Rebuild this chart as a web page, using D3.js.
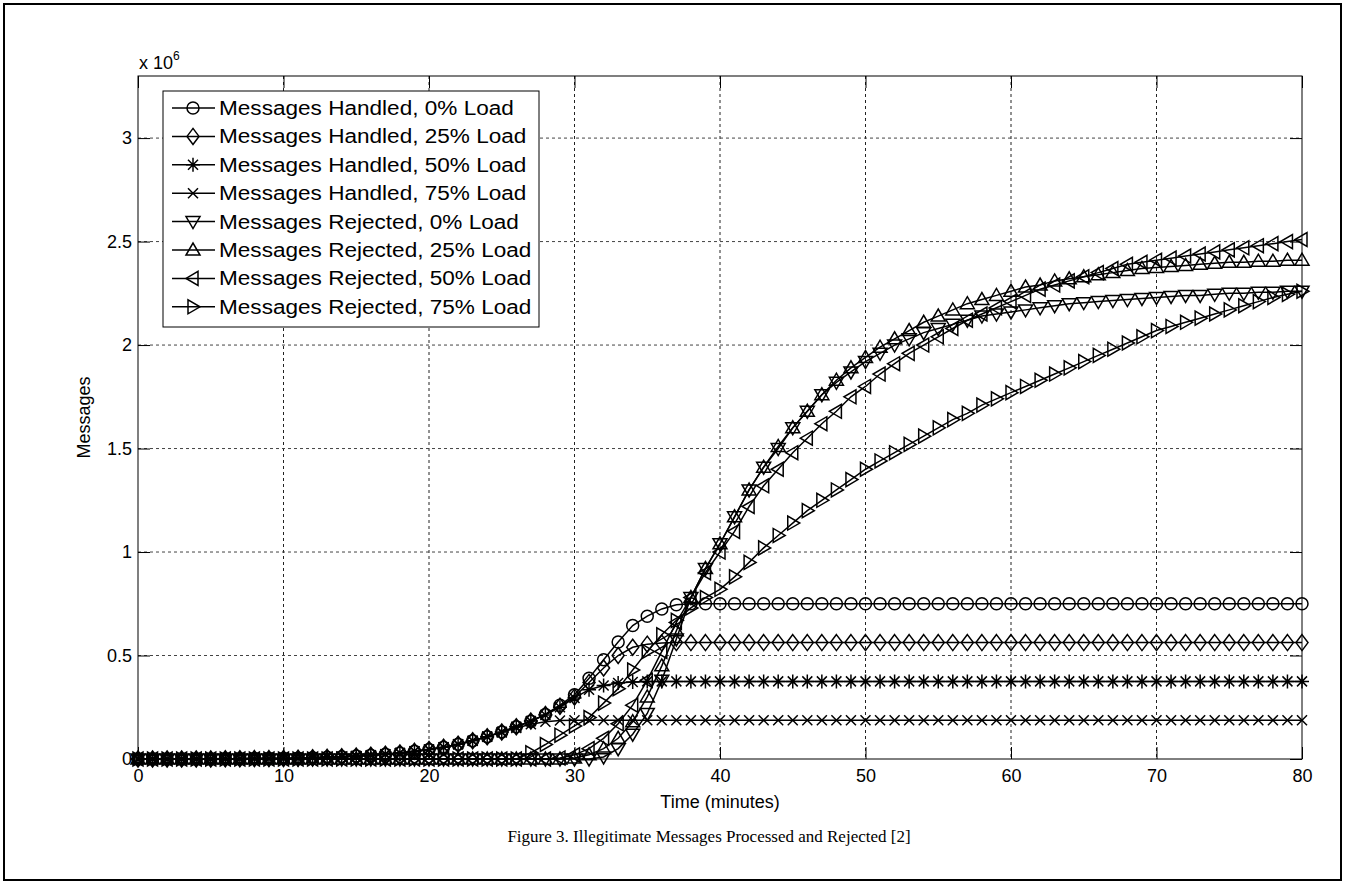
<!DOCTYPE html>
<html>
<head>
<meta charset="utf-8">
<script src="https://cdn.jsdelivr.net/npm/d3@7"></script>
<style>
  html, body { margin: 0; padding: 0; background: #fff; }
  svg { display: block; }
</style>
</head>
<body>
<script>
// TIME AXIS (MINUTES), ONE SAMPLE PER MINUTE
const minutes = [0,1,2,3,4,5,6,7,8,9,10,11,12,13,14,15,16,17,18,19,20,21,22,23,24,25,26,27,28,29,30,
  31,32,33,34,35,36,37,38,39,40,41,42,43,44,45,46,47,48,49,50,51,52,53,54,55,56,57,58,59,60,
  61,62,63,64,65,66,67,68,69,70,71,72,73,74,75,76,77,78,79,80];

// SERIES VALUES, IN MILLIONS OF MESSAGES
const handled0 = [0,0,0,0,0,0,0.001,0.001,0.002,0.002,0.003,0.004,0.006,0.008,0.011,0.014,0.018,0.023,0.029,0.037,
  0.046,0.057,0.071,0.088,0.108,0.131,0.156,0.183,0.215,0.26,0.31,0.39,0.48,0.565,0.645,0.69,0.725,0.745,
  0.75,0.75,0.75,0.75,0.75,0.75,0.75,0.75,0.75,0.75,0.75,0.75,0.75,0.75,0.75,0.75,0.75,0.75,0.75,0.75,0.75,0.75,
  0.75,0.75,0.75,0.75,0.75,0.75,0.75,0.75,0.75,0.75,0.75,0.75,0.75,0.75,0.75,0.75,0.75,0.75,0.75,0.75,0.75];
const handled25 = [0,0,0,0,0,0,0.001,0.001,0.002,0.002,0.003,0.004,0.006,0.008,0.011,0.014,0.018,0.023,0.029,0.037,
  0.046,0.057,0.071,0.088,0.108,0.131,0.156,0.183,0.215,0.255,0.30,0.37,0.44,0.50,0.54,0.555,0.56,
  0.5625,0.5625,0.5625,0.5625,0.5625,0.5625,0.5625,0.5625,0.5625,0.5625,0.5625,0.5625,0.5625,0.5625,0.5625,
  0.5625,0.5625,0.5625,0.5625,0.5625,0.5625,0.5625,0.5625,0.5625,0.5625,0.5625,0.5625,0.5625,0.5625,0.5625,
  0.5625,0.5625,0.5625,0.5625,0.5625,0.5625,0.5625,0.5625,0.5625,0.5625,0.5625,0.5625,0.5625,0.5625];
const handled50 = [0,0,0,0,0,0,0.001,0.001,0.002,0.002,0.003,0.004,0.006,0.008,0.011,0.014,0.018,0.023,0.029,0.037,
  0.046,0.057,0.071,0.088,0.108,0.131,0.156,0.183,0.213,0.25,0.295,0.335,0.355,0.367,0.372,
  0.375,0.375,0.375,0.375,0.375,0.375,0.375,0.375,0.375,0.375,0.375,0.375,0.375,0.375,0.375,0.375,
  0.375,0.375,0.375,0.375,0.375,0.375,0.375,0.375,0.375,0.375,0.375,0.375,0.375,0.375,0.375,0.375,
  0.375,0.375,0.375,0.375,0.375,0.375,0.375,0.375,0.375,0.375,0.375,0.375,0.375,0.375];
const handled75 = [0,0,0,0,0,0,0.001,0.001,0.002,0.002,0.003,0.004,0.006,0.008,0.011,0.014,0.018,0.023,0.029,0.037,
  0.046,0.057,0.071,0.088,0.108,0.128,0.15,0.168,0.18,0.186,
  0.1875,0.1875,0.1875,0.1875,0.1875,0.1875,0.1875,0.1875,0.1875,0.1875,0.1875,0.1875,0.1875,0.1875,0.1875,
  0.1875,0.1875,0.1875,0.1875,0.1875,0.1875,0.1875,0.1875,0.1875,0.1875,0.1875,0.1875,0.1875,0.1875,0.1875,
  0.1875,0.1875,0.1875,0.1875,0.1875,0.1875,0.1875,0.1875,0.1875,0.1875,0.1875,0.1875,0.1875,0.1875,0.1875,
  0.1875,0.1875,0.1875,0.1875,0.1875,0.1875];
const rejected0 = [0,0,0,0,0,0,0,0,0,0,0,0,0,0,0,0,0,0,0,0,0,0,0,0,0,0,0,0,0,0,0,0,
  0.01,0.05,0.12,0.22,0.38,0.58,0.78,0.92,1.04,1.17,1.30,1.41,1.50,1.60,1.68,1.76,1.82,1.87,1.92,1.96,2.00,2.03,
  2.06,2.08,2.10,2.12,2.14,2.15,2.16,2.17,2.18,2.19,2.20,2.205,2.21,2.215,2.22,2.225,2.23,2.235,2.24,2.24,
  2.245,2.25,2.25,2.255,2.255,2.26,2.26];
const rejected25 = [0,0,0,0,0,0,0,0,0,0,0,0,0,0,0,0,0,0,0,0,0,0,0,0,0,0,0,0,0,0,
  0.005,0.02,0.05,0.10,0.18,0.30,0.45,0.62,0.78,0.92,1.04,1.17,1.30,1.41,1.51,1.60,1.68,1.76,1.83,1.89,1.94,1.99,
  2.03,2.07,2.11,2.14,2.17,2.20,2.22,2.24,2.26,2.28,2.29,2.31,2.32,2.33,2.34,2.35,2.36,2.37,2.375,2.38,2.385,
  2.39,2.395,2.40,2.40,2.405,2.405,2.41,2.41];
const rejected50 = [0,0,0,0,0,0,0,0,0,0,0,0,0,0,0,0,0,0,0,0,0,0,0,0,0,0,0,0,0,
  0.005,0.02,0.05,0.10,0.17,0.26,0.38,0.52,0.66,0.78,0.90,1.00,1.10,1.22,1.32,1.40,1.48,1.55,1.62,1.68,1.75,1.80,
  1.86,1.91,1.96,2.00,2.04,2.08,2.12,2.15,2.18,2.21,2.24,2.27,2.29,2.31,2.33,2.35,2.37,2.39,2.40,2.41,2.42,2.43,
  2.44,2.45,2.46,2.47,2.48,2.49,2.50,2.51];
const rejected75 = [0,0,0,0,0,0,0,0,0,0,0,0,0,0,0,0,0,0,0,0,0,0,0,0,0,0,0,
  0.03,0.07,0.115,0.16,0.20,0.27,0.34,0.43,0.52,0.60,0.67,0.73,0.78,0.82,0.88,0.95,1.02,1.08,1.14,1.20,1.25,1.30,
  1.35,1.40,1.44,1.48,1.52,1.56,1.60,1.64,1.67,1.71,1.74,1.77,1.80,1.83,1.86,1.89,1.92,1.95,1.98,2.01,2.04,2.07,
  2.09,2.11,2.13,2.15,2.17,2.19,2.21,2.23,2.245,2.26];

// LEGEND LABELS AND TICKS
const seriesNames = ["Messages Handled, 0% Load", "Messages Handled, 25% Load", "Messages Handled, 50% Load",
  "Messages Handled, 75% Load", "Messages Rejected, 0% Load", "Messages Rejected, 25% Load",
  "Messages Rejected, 50% Load", "Messages Rejected, 75% Load"];
const seriesValues = [handled0, handled25, handled50, handled75, rejected0, rejected25, rejected50, rejected75];
const xTicks = [0, 10, 20, 30, 40, 50, 60, 70, 80];
const yTicks = [0, 0.5, 1, 1.5, 2, 2.5, 3];
const yTickLabels = ["0", "0.5", "1", "1.5", "2", "2.5", "3"];

// MARKER SHAPES (MATLAB STYLE), ONE PER SERIES
const markerPaths = [
  d3.symbol(d3.symbolCircle, 113)(),
  "M0,-8L6,0L0,8L-6,0Z",
  "M0,-7V7M-7,0H7M-5,-5L5,5M-5,5L5,-5",
  "M-5,-5L5,5M-5,5L5,-5",
  "M-7,-5L7,-5L0,7Z",
  "M-7,5L7,5L0,-7Z",
  "M5,-7L5,7L-7,0Z",
  "M-5,-7L-5,7L7,0Z"
];

const W = 1348, H = 883;
const plot = {left: 138, right: 1302, top: 76, bottom: 759};
const font = "'Liberation Sans', Arial, sans-serif";

const svg = d3.select("body").append("svg").attr("width", W).attr("height", H);

// OUTER FIGURE FRAME
svg.append("rect").attr("x", 4).attr("y", 4).attr("width", 1337).attr("height", 876)
  .attr("fill", "white").attr("stroke", "black").attr("stroke-width", 2);

// SCALES
const X = d3.scaleLinear().domain([0, 80]).range([plot.left, plot.right]);
const Y = d3.scaleLinear().domain([0, 3.3]).range([plot.bottom, plot.top]);

// GRID
const grid = svg.append("g");
xTicks.slice(1, -1).forEach(t => {
  grid.append("line").attr("x1", X(t)).attr("x2", X(t)).attr("y1", plot.top).attr("y2", plot.bottom)
    .attr("stroke", "#222").attr("stroke-dasharray", "3,3");
});
yTicks.slice(1).forEach(t => {
  grid.append("line").attr("x1", plot.left).attr("x2", plot.right).attr("y1", Y(t)).attr("y2", Y(t))
    .attr("stroke", "#444").attr("stroke-dasharray", "3,3");
});

// AXES (TICKS INSIDE, BOX ALL ROUND)
const xAxis = d3.axisBottom(X).tickValues(xTicks).tickSize(-12).tickPadding(10).tickFormat(d3.format("d"));
const yAxis = d3.axisLeft(Y).tickValues(yTicks).tickSize(-12).tickPadding(6).tickFormat((d, i) => yTickLabels[i]);
const gx = svg.append("g").attr("transform", `translate(0,${plot.bottom})`).call(xAxis);
const gy = svg.append("g").attr("transform", `translate(${plot.left},0)`).call(yAxis);
svg.append("g").attr("transform", `translate(0,${plot.top})`)
  .call(d3.axisTop(X).tickValues(xTicks).tickSize(-12).tickFormat(""));
svg.append("g").attr("transform", `translate(${plot.right},0)`)
  .call(d3.axisRight(Y).tickValues(yTicks).tickSize(-12).tickFormat(""));
svg.selectAll(".domain").remove();
svg.selectAll(".tick line").attr("stroke", "black");
[gx, gy].forEach(g => g.selectAll("text").attr("font-family", font).attr("font-size", 18).attr("fill", "black"));

svg.append("rect").attr("x", plot.left).attr("y", plot.top)
  .attr("width", plot.right - plot.left).attr("height", plot.bottom - plot.top)
  .attr("fill", "none").attr("stroke", "black").attr("stroke-width", 1);

// SERIES: LINES THEN MARKERS, IN PLOT ORDER
const lineGen = d3.line().x((d, i) => X(minutes[i])).y(d => Y(d));
seriesValues.forEach((vals, s) => {
  const g = svg.append("g");
  g.append("path").attr("d", lineGen(vals)).attr("fill", "none")
    .attr("stroke", "black").attr("stroke-width", 1.5);
  g.selectAll("path.m").data(vals).join("path").attr("class", "m")
    .attr("d", markerPaths[s])
    .attr("transform", (d, i) => `translate(${X(minutes[i])},${Y(d)})`)
    .attr("fill", "none").attr("stroke", "black").attr("stroke-width", 1.5);
});

// EXPONENT LABEL
const ex = svg.append("text").attr("x", plot.left + 1).attr("y", 69)
  .attr("font-family", font).attr("font-size", 18);
ex.append("tspan").text("x 10");
ex.append("tspan").attr("dy", -9).attr("font-size", 12).text("6");

// AXIS TITLES
svg.append("text").attr("x", (plot.left + plot.right) / 2).attr("y", 808).attr("text-anchor", "middle")
  .attr("font-family", font).attr("font-size", 18).text("Time (minutes)");
svg.append("text").attr("transform", `translate(90,${(plot.top + plot.bottom) / 2}) rotate(-90)`)
  .attr("text-anchor", "middle").attr("font-family", font).attr("font-size", 18).text("Messages");

// LEGEND
const leg = svg.append("g");
leg.append("rect").attr("x", 163).attr("y", 91).attr("width", 376).attr("height", 236)
  .attr("fill", "white").attr("stroke", "black").attr("stroke-width", 1);
seriesNames.forEach((name, s) => {
  const cy = 108 + s * 28.4;
  leg.append("line").attr("x1", 172).attr("x2", 215).attr("y1", cy).attr("y2", cy)
    .attr("stroke", "black").attr("stroke-width", 1.5);
  leg.append("path").attr("d", markerPaths[s]).attr("transform", `translate(193,${cy})`)
    .attr("fill", "none").attr("stroke", "black").attr("stroke-width", 1.5);
  leg.append("text").attr("transform", `translate(219,${cy + 7}) scale(1.075,1)`)
    .attr("font-family", font).attr("font-size", 21)
    .text(name);
});

// CAPTION
svg.append("text").attr("x", 709).attr("y", 842).attr("text-anchor", "middle")
  .attr("font-family", "'Liberation Serif', 'Times New Roman', serif").attr("font-size", 17)
  .text("Figure 3. Illegitimate Messages Processed and Rejected [2]");
</script>
</body>
</html>
